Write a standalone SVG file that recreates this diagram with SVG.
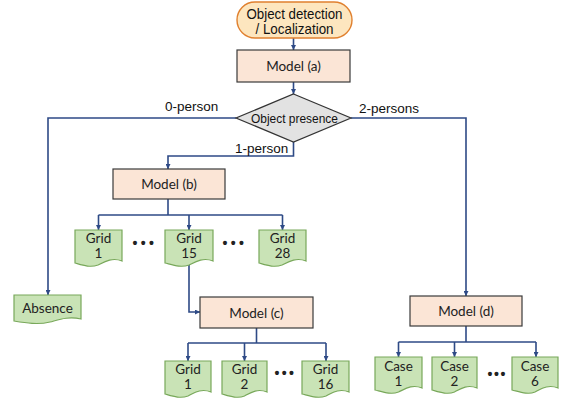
<svg xmlns="http://www.w3.org/2000/svg" width="562" height="399" viewBox="0 0 562 399">
<style>
.model{fill:#fbe5d6;stroke:#3a3a3a;stroke-width:1.2}
.doc{fill:#c9e3b6;stroke:#78a85a;stroke-width:1.2}
.oval{fill:#fde6bf;stroke:#e0802f;stroke-width:1.4}
.dia{fill:#e2e2e2;stroke:#333;stroke-width:1.2}
.t{font-family:Lato,"Liberation Sans",sans-serif;font-size:13.5px;fill:#222;text-anchor:middle}
.a{font-family:"Liberation Sans",Arial,sans-serif;fill:#111}
.lbl{font-family:"Liberation Sans",Arial,sans-serif;font-size:13.5px;fill:#111}
.dots{font-family:"Liberation Sans",Arial,sans-serif;font-size:14px;font-weight:bold;fill:#222}
.c{fill:none;stroke:#2e4a86;stroke-width:1.6}
</style>
<defs>
<marker id="ah" viewBox="0 0 10 10" refX="10" refY="5" markerWidth="5" markerHeight="5" orient="auto" markerUnits="userSpaceOnUse">
<path d="M0,0 L10,5 L0,10 Z" fill="#2e4a86"/>
</marker>
</defs>

<g id="connectors">
<path class="c" d="M293.5,38 V50" marker-end="url(#ah)"/>
<path class="c" d="M293.5,82 V94" marker-end="url(#ah)"/>
<path class="c" d="M236,118 H48 V295" marker-end="url(#ah)"/>
<path class="c" d="M351,118 H466 V296" marker-end="url(#ah)"/>
<path class="c" d="M293.5,142 V156 H168 V169" marker-end="url(#ah)"/>
<path class="c" d="M168,199 V215"/>
<path class="c" d="M98.5,215 H282.5"/>
<path class="c" d="M98.5,215 V230" marker-end="url(#ah)"/>
<path class="c" d="M189,215 V230" marker-end="url(#ah)"/>
<path class="c" d="M282.5,215 V230" marker-end="url(#ah)"/>
<path class="c" d="M189,262 V312 H200" marker-end="url(#ah)"/>
<path class="c" d="M256.5,328 V343"/>
<path class="c" d="M188,343 H326"/>
<path class="c" d="M188,343 V361" marker-end="url(#ah)"/>
<path class="c" d="M244.5,343 V361" marker-end="url(#ah)"/>
<path class="c" d="M326,343 V361" marker-end="url(#ah)"/>
<path class="c" d="M466,326 V342"/>
<path class="c" d="M398.5,342 H536"/>
<path class="c" d="M398.5,342 V357" marker-end="url(#ah)"/>
<path class="c" d="M454.5,342 V357" marker-end="url(#ah)"/>
<path class="c" d="M536,342 V357" marker-end="url(#ah)"/>
<text class="lbl" x="165" y="111">0-person</text>
<text class="lbl" x="235" y="153">1-person</text>
<text class="lbl" x="359" y="113">2-persons</text>
</g>

<g id="start">
<rect class="oval" x="237" y="2" width="115" height="36" rx="18" ry="18"/>
<text class="a" font-size="14.5" text-anchor="middle" x="294.5" y="19" textLength="96" lengthAdjust="spacingAndGlyphs">Object detection</text>
<text class="a" font-size="14.5" text-anchor="middle" x="294.5" y="33.5" textLength="78" lengthAdjust="spacingAndGlyphs">/ Localization</text>
</g>

<g id="model-a">
<rect class="model" x="237" y="50" width="113" height="32"/>
<text class="t" x="293.5" y="70.5">Model (a)</text>
</g>

<g id="presence">
<path class="dia" d="M293.5,94 L351,118 L293.5,142 L236,118 Z"/>
<text class="a" font-size="13.5" text-anchor="middle" x="294.5" y="123" textLength="87" lengthAdjust="spacingAndGlyphs">Object presence</text>
</g>

<g id="model-b">
<rect class="model" x="113" y="169" width="112" height="30"/>
<text class="t" x="169" y="188.5">Model (b)</text>
</g>

<g id="grid-b1">
<path class="doc" d="M75,230 H122 V261 C112,257 104,262 98,265 C90,268 82,265 75,263 Z"/>
<text class="t" x="98.5" y="242.5">Grid</text>
<text class="t" x="98.5" y="257.5">1</text>
</g>
<text class="dots" x="132.5" y="248" letter-spacing="3.4">•••</text>
<g id="grid-b15">
<path class="doc" d="M165,230 H213 V261 C203,257 195,262 189,265 C181,268 173,265 165,263 Z"/>
<text class="t" x="189" y="242.5">Grid</text>
<text class="t" x="189" y="257.5">15</text>
</g>
<text class="dots" x="222.5" y="248" letter-spacing="3.4">•••</text>
<g id="grid-b28">
<path class="doc" d="M259,230 H306 V261 C296,257 288,262 282,265 C274,268 266,265 259,263 Z"/>
<text class="t" x="282.5" y="242.5">Grid</text>
<text class="t" x="282.5" y="257.5">28</text>
</g>

<g id="absence">
<path class="doc" d="M14,295 H81 V319 C68,316 58,320 50,322 C38,325 26,323 14,321 Z"/>
<text class="t" x="47.5" y="313">Absence</text>
</g>

<g id="model-c">
<rect class="model" x="200" y="297" width="113" height="31"/>
<text class="t" x="256.5" y="317.5">Model (c)</text>
</g>

<g id="grid-c1">
<path class="doc" d="M165,361 H211 V392 C201,388 194,393 188,396 C180,399 172,396 165,394 Z"/>
<text class="t" x="188" y="373.5">Grid</text>
<text class="t" x="188" y="388.5">1</text>
</g>
<g id="grid-c2">
<path class="doc" d="M222,361 H267 V392 C257,388 250,393 244.5,396 C237,399 229,396 222,394 Z"/>
<text class="t" x="244.5" y="373.5">Grid</text>
<text class="t" x="244.5" y="388.5">2</text>
</g>
<text class="dots" x="274.5" y="378" letter-spacing="2.4">•••</text>
<g id="grid-c16">
<path class="doc" d="M302,361 H349 V392 C339,388 332,393 326,396 C318,399 310,396 302,394 Z"/>
<text class="t" x="325.5" y="373.5">Grid</text>
<text class="t" x="325.5" y="388.5">16</text>
</g>

<g id="model-d">
<rect class="model" x="410" y="296" width="112" height="30"/>
<text class="t" x="466" y="316">Model (d)</text>
</g>

<g id="case-1">
<path class="doc" d="M375,357 H422 V388 C412,384 405,389 398.5,392 C391,395 383,392 375,390 Z"/>
<text class="t" x="398.5" y="370.5">Case</text>
<text class="t" x="398.5" y="385.5">1</text>
</g>
<g id="case-2">
<path class="doc" d="M432,357 H477 V388 C467,384 460,389 454.5,392 C447,395 439,392 432,390 Z"/>
<text class="t" x="454.5" y="370.5">Case</text>
<text class="t" x="454.5" y="385.5">2</text>
</g>
<text class="dots" x="487.5" y="379" letter-spacing="1.6">•••</text>
<g id="case-6">
<path class="doc" d="M512,357 H558 V388 C548,384 541,389 535,392 C528,395 520,392 512,390 Z"/>
<text class="t" x="535" y="370.5">Case</text>
<text class="t" x="535" y="385.5">6</text>
</g>
</svg>
